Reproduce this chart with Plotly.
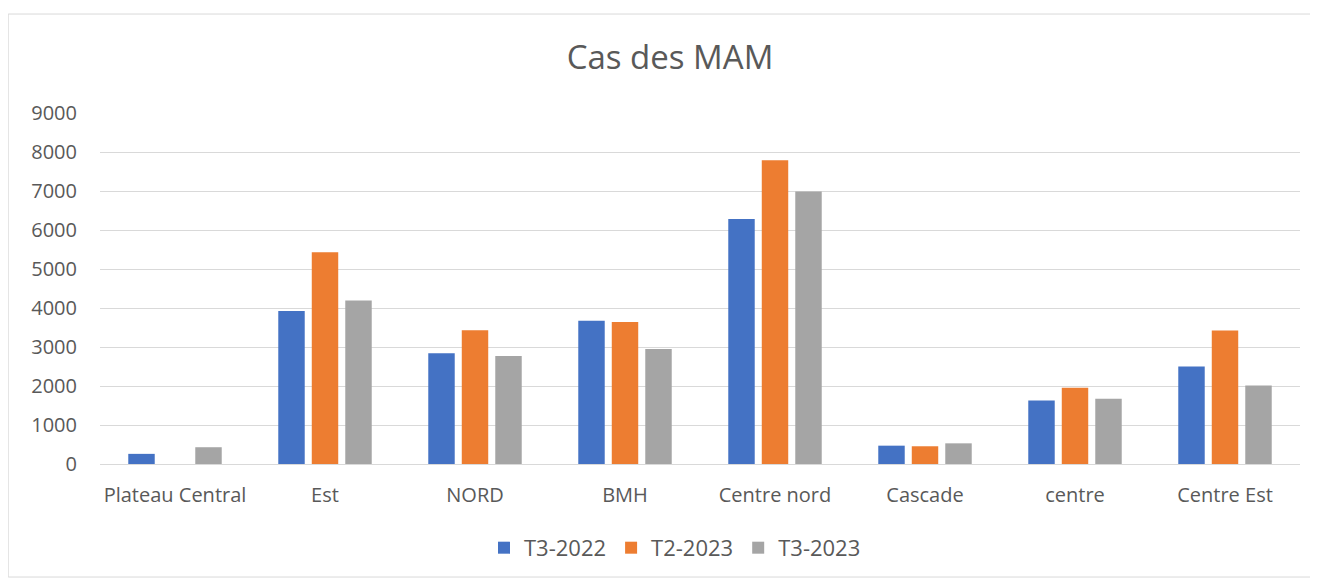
import plotly.graph_objects as go

categories = ["Plateau Central", "Est", "NORD", "BMH", "Centre nord", "Cascade", "centre", "Centre Est"]
t3_2022 = [260, 3920, 2840, 3670, 6280, 470, 1630, 2500]
t2_2023 = [None, 5430, 3430, 3640, 7790, 455, 1955, 3420]
t3_2023 = [430, 4190, 2770, 2950, 6990, 530, 1670, 2015]
y_ticks = [0, 1000, 2000, 3000, 4000, 5000, 6000, 7000, 8000, 9000]

series = [("T3-2022", t3_2022, "#4472C4"), ("T2-2023", t2_2023, "#ED7D31"), ("T3-2023", t3_2023, "#A5A5A5")]

fig = go.Figure()
for name, vals, col in series:
    fig.add_trace(go.Bar(x=categories, y=vals, name=name, marker=dict(color=col, line=dict(width=0))))

txt = "#595959"
# page body adds an 8px offset; figure sized to fill the remaining window
fig.update_layout(
    width=1310, height=573,
    margin=dict(l=92, r=18, t=105, b=117),
    paper_bgcolor="white", plot_bgcolor="white",
    barmode="group", bargap=0.33, bargroupgap=0.21,
    font=dict(family="Open Sans, Liberation Sans, sans-serif", color=txt, size=20),
    title=dict(text="Cas des MAM", x=(670 - 8) / 1310, xanchor="center", y=1 - 49 / 573, yanchor="middle",
               font=dict(size=33, color=txt)),
    legend=dict(orientation="h", x=(675 - 100) / 1200, xanchor="center", y=-0.239, yanchor="middle",
                font=dict(size=22, color=txt), traceorder="normal"),
    showlegend=True,
)
fig.update_yaxes(range=[0, 9000], tickvals=y_ticks, showgrid=True, gridcolor="#D9D9D9", gridwidth=1,
                 zeroline=True, zerolinecolor="#D9D9D9", zerolinewidth=1, showline=False,
                 ticks="", tickfont=dict(size=20, color=txt), ticklabelstandoff=22)
fig.update_xaxes(showgrid=False, showline=False, ticks="", tickfont=dict(size=20, color=txt),
                 ticklabelstandoff=17)
fig.add_shape(type="rect", xref="paper", yref="paper", x0=-0.0765, x1=1.011, y0=-0.322, y1=1.282,
              line=dict(color="#D9D9D9", width=1), fillcolor="rgba(0,0,0,0)", layer="below")

fig.write_html("out.html")
